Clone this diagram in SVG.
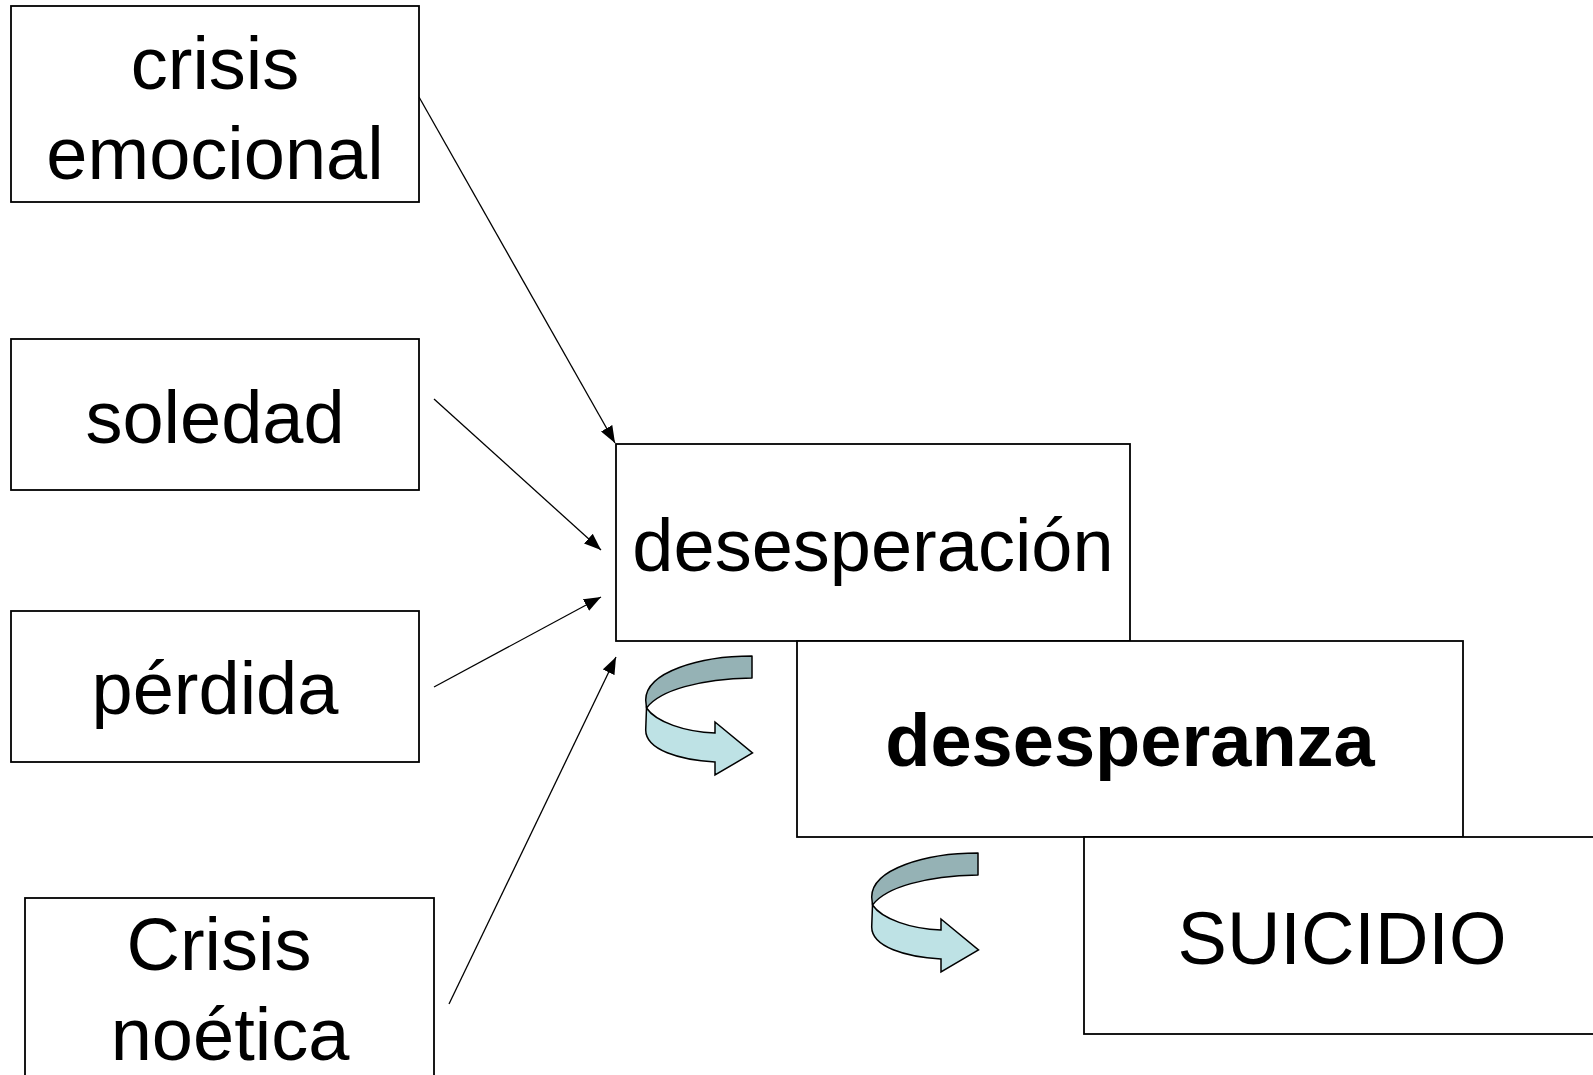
<svg xmlns="http://www.w3.org/2000/svg" width="1593" height="1075" viewBox="0 0 1593 1075">
<style>
.box{fill:#fff;stroke:#000;stroke-width:1.8}
.t{font-family:"Liberation Sans",Arial,sans-serif;font-size:74px;fill:#000;text-anchor:middle}
.b{font-weight:bold}
.ln{stroke:#000;stroke-width:1.3;fill:none;marker-end:url(#ah)}
.dk{fill:#95B2B5;stroke:#000;stroke-width:1.5;stroke-linejoin:round}
.lt{fill:#BEE2E5;stroke:#000;stroke-width:1.5;stroke-linejoin:miter}
</style>
<defs>
<marker id="ah" markerUnits="userSpaceOnUse" markerWidth="17" markerHeight="13" viewBox="0 0 17 13" refX="17" refY="6.5" orient="auto">
<path d="M0,0 L17,6.5 L0,13 z" fill="#000"/>
</marker>
<g id="curl">
<path class="dk" d="M752,656 C700,656 645.7,672 645.7,700 L646.5,708 C660,690 700,679 752,678 Z"/>
<path class="lt" d="M646.5,708 C656,722 685,732 715,733 L715,722 L752.5,753 L715,775 L715,762 C680,760 645.7,750 645.7,730 Z"/>
</g>
</defs>
<rect width="1593" height="1075" fill="#fff"/>
<g id="connectors">
<line class="ln" x1="419" y1="97" x2="615" y2="443"/>
<line class="ln" x1="434" y1="399" x2="601" y2="550"/>
<line class="ln" x1="434" y1="687" x2="601" y2="597"/>
<line class="ln" x1="449" y1="1004" x2="616" y2="657"/>
<use href="#curl"/>
<use href="#curl" transform="translate(226,197)"/>
</g>
<g id="crisis-emocional">
<rect class="box" x="11" y="6" width="408" height="196"/>
<text class="t" x="215" y="89">crisis</text>
<text class="t" x="215" y="179">emocional</text>
</g>
<g id="soledad">
<rect class="box" x="11" y="339" width="408" height="151"/>
<text class="t" x="215" y="443">soledad</text>
</g>
<g id="perdida">
<rect class="box" x="11" y="611" width="408" height="151"/>
<text class="t" x="215" y="714">pérdida</text>
</g>
<g id="crisis-noetica">
<rect class="box" x="25" y="898" width="409" height="200"/>
<text class="t" x="219" y="970">Crisis</text>
<text class="t" x="230" y="1060">noética</text>
</g>
<g id="desesperacion">
<rect class="box" x="616" y="444" width="514" height="197"/>
<text class="t" x="873" y="571">desesperación</text>
</g>
<g id="desesperanza">
<rect class="box" x="797" y="641" width="666" height="196"/>
<text class="t b" x="1130" y="766">desesperanza</text>
</g>
<g id="suicidio">
<rect class="box" x="1084" y="837" width="530" height="197"/>
<text class="t" x="1342" y="964">SUICIDIO</text>
</g>
</svg>
